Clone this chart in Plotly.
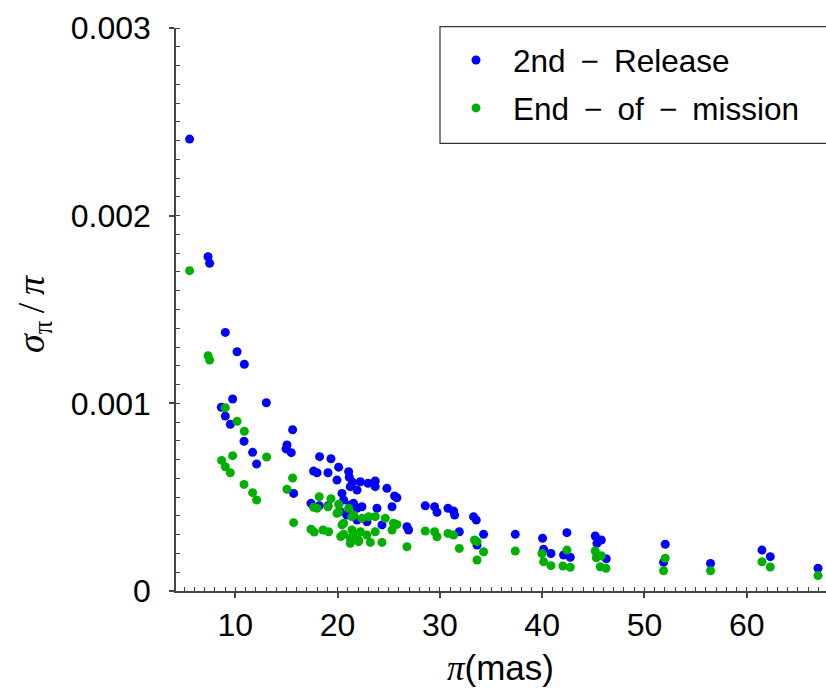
import plotly.graph_objects as go

# ---- data (parallax in mas, relative error in units of 1e-3) ----
release2_x = [5.53, 7.33, 7.49, 9.02, 10.17, 10.88, 9.74, 13.03, 8.63, 9.02, 9.51, 15.6,
              10.85, 15.05, 14.96, 15.47, 11.69, 18.24, 19.35, 12.08, 17.65, 17.99, 19.06,
              15.7, 17.4, 18.2, 19.06,
              20.1, 19.94, 21.08, 21.14, 21.24, 21.47, 21.9, 22.22, 22.97, 23.68, 23.68,
              24.82, 25.57, 25.8, 25.32, 23.85, 21.9, 20.59, 21.24, 20.26, 20.9, 21.9,
              22.87, 24.34, 20.43, 21.56, 22.38,
              28.57, 29.48, 29.72, 30.79, 31.34, 31.44, 33.29, 33.56, 26.78, 26.94, 31.9,
              33.63, 34.27, 37.37, 40.04, 40.14, 40.86, 42.42, 42.09, 42.75, 45.19, 45.78,
              45.36, 46.27, 52.03, 51.87, 56.46, 61.49, 62.3, 66.97]
release2_err = [2.408, 1.781, 1.746, 1.378, 1.275, 1.208, 1.023, 1.003, 0.979, 0.932, 0.888, 0.859,
                0.798, 0.778, 0.757, 0.737, 0.739, 0.716, 0.705, 0.677, 0.639, 0.630, 0.630,
                0.520, 0.467, 0.454, 0.454,
                0.660, 0.591, 0.636, 0.606, 0.556, 0.579, 0.538, 0.582, 0.574, 0.586, 0.556,
                0.547, 0.506, 0.497, 0.449, 0.441, 0.441, 0.485, 0.458, 0.423, 0.405, 0.378,
                0.369, 0.352, 0.520, 0.467, 0.449,
                0.454, 0.449, 0.419, 0.441, 0.426, 0.405, 0.396, 0.378, 0.343, 0.325, 0.316,
                0.245, 0.302, 0.302, 0.281, 0.222, 0.200, 0.311, 0.192, 0.180, 0.293, 0.272,
                0.254, 0.172, 0.249, 0.153, 0.147, 0.218, 0.183, 0.121]

endmission_x = [5.53, 7.33, 7.49, 9.02, 10.17, 10.88, 9.74, 13.06, 8.66, 9.02, 9.51, 15.6,
                10.85, 15.05, 11.69, 12.08, 18.2, 19.35, 17.65, 17.99, 19.06, 15.7, 17.4,
                17.72, 18.57, 19.12,
                20.1, 19.94, 20.1, 21.08, 21.56, 21.4, 22.38, 23.03, 23.68, 24.66, 25.47,
                25.8, 20.43, 20.59, 20.59, 21.4, 21.56, 22.22, 22.87, 23.68, 25.32, 21.24,
                22.05, 21.24, 22.05, 23.2, 24.34, 20.3,
                26.78, 28.57, 29.48, 29.72, 30.79, 31.34, 31.9, 33.39, 33.63, 34.27, 33.63,
                37.37, 39.98, 40.14, 40.86, 42.42, 42.03, 42.75, 45.19, 45.29, 45.78, 45.68,
                46.24, 52.03, 51.87, 56.46, 61.49, 62.3, 66.97]
endmission_err = [1.707, 1.254, 1.231, 0.977, 0.904, 0.851, 0.721, 0.714, 0.696, 0.662, 0.630, 0.602,
                  0.568, 0.542, 0.524, 0.485, 0.502, 0.492, 0.446, 0.441, 0.449, 0.364, 0.329,
                  0.314, 0.325, 0.316,
                  0.462, 0.414, 0.423, 0.441, 0.405, 0.396, 0.387, 0.396, 0.396, 0.387, 0.361,
                  0.355, 0.352, 0.361, 0.302, 0.325, 0.307, 0.316, 0.298, 0.316, 0.325, 0.281,
                  0.272, 0.254, 0.263, 0.259, 0.259, 0.290,
                  0.236, 0.320, 0.316, 0.289, 0.307, 0.298, 0.227, 0.272, 0.263, 0.209, 0.165,
                  0.213, 0.200, 0.156, 0.135, 0.218, 0.133, 0.126, 0.213, 0.177, 0.188, 0.129,
                  0.121, 0.174, 0.108, 0.108, 0.156, 0.128, 0.082]

y_tickvals = [0, 0.001, 0.002, 0.003]
y_ticktext = ["0", "0.001", "0.002", "0.003"]
x_tickvals = [10, 20, 30, 40, 50, 60]
x_ticktext = ["10", "20", "30", "40", "50", "60"]

SP = "\u00a0\u2009"
series_names = ["2nd" + SP + "\u2212" + SP + "Release",
                "End" + SP + "\u2212" + SP + "of" + SP + "\u2212" + SP + "mission"]

BLUE = "#0000ff"
GREEN = "#00b000"
FONT = "Liberation Sans, Arial, sans-serif"
AXC = "#444444"

fig = go.Figure()
fig.add_trace(go.Scatter(
    x=release2_x, y=[v * 1e-3 for v in release2_err], mode="markers",
    name=series_names[0], legendgroup="a",
    marker=dict(color=BLUE, size=9, line=dict(width=0))))
fig.add_trace(go.Scatter(
    x=endmission_x, y=[v * 1e-3 for v in endmission_err], mode="markers",
    name=series_names[1], legendgroup="b",
    marker=dict(color=GREEN, size=9, line=dict(width=0))))

XR = [4.2, 67.75]
YR = [0, 0.003]
L, T, B = 176, 28, 101
PW, PH = 826 - L, 692 - T - B


def px_x(p):
    return (p - L) / PW


def px_y(p):
    return (692 - B - p) / PH


fig.update_layout(
    width=826, height=692, autosize=False,
    margin=dict(l=L, r=0, t=T, b=B, autoexpand=False),
    paper_bgcolor="white", plot_bgcolor="white",
    font=dict(family=FONT, size=32, color="black"),
    showlegend=True,
    legend=dict(x=px_x(439), y=px_y(33), xanchor="left", yanchor="top",
                borderwidth=0, bgcolor="rgba(0,0,0,0)",
                font=dict(family=FONT, size=31.5, color="black"),
                itemwidth=64, tracegroupgap=4),
    shapes=[dict(type="rect", xref="paper", yref="paper",
                 x0=px_x(440), x1=px_x(840), y0=px_y(143.3), y1=px_y(26.7),
                 line=dict(color="#333333", width=1.2), fillcolor="rgba(0,0,0,0)",
                 layer="above")],
    xaxis=dict(range=XR, showgrid=False, zeroline=False,
               showline=True, linecolor=AXC, linewidth=1.5,
               ticks="outside", ticklen=5, tickwidth=1.5, tickcolor=AXC,
               tickvals=x_tickvals, ticktext=x_ticktext,
               tickfont=dict(family=FONT, size=32),
               minor=dict(ticks="inside", dtick=1, tick0=0, ticklen=4,
                          tickwidth=1, tickcolor=AXC, showgrid=False)),
    yaxis=dict(range=YR, showgrid=False, zeroline=False,
               showline=True, linecolor=AXC, linewidth=1.5,
               ticks="outside", ticklen=5, tickwidth=1.5, tickcolor=AXC,
               tickvals=y_tickvals, ticktext=y_ticktext,
               tickfont=dict(family=FONT, size=32),
               ticklabelstandoff=12,
               minor=dict(ticks="inside", dtick=0.0001, tick0=0, ticklen=4,
                          tickwidth=1, tickcolor=AXC, showgrid=False)),
    xaxis2=dict(range=XR, overlaying="x", anchor="y", side="bottom",
                showgrid=False, zeroline=False, showline=False,
                ticks="inside", ticklen=4, tickwidth=1.5, tickcolor=AXC,
                tickvals=x_tickvals, showticklabels=False),
    yaxis2=dict(range=YR, overlaying="y", anchor="x", side="left",
                showgrid=False, zeroline=False, showline=False,
                ticks="inside", ticklen=4, tickwidth=1.5, tickcolor=AXC,
                tickvals=y_tickvals, showticklabels=False),
    annotations=[
        dict(text="<span style='font-family:Liberation Serif'><i>π</i></span>(mas)",
             xref="paper", yref="paper", x=px_x(500), y=px_y(668),
             xanchor="center", yanchor="middle", showarrow=False,
             font=dict(family=FONT, size=35, color="black")),
        dict(text="<i>σ</i><sub>π</sub>\u2009/\u2009<i>π</i>",
             xref="paper", yref="paper", x=px_x(34), y=px_y(314),
             xanchor="center", yanchor="middle", showarrow=False, textangle=-90,
             font=dict(family="Liberation Serif, DejaVu Serif, serif", size=38, color="black")),
    ],
)

fig.write_html("out.html",
               config={"displayModeBar": False},
               post_script="document.body.style.margin='0px';"
                           "document.body.style.overflow='hidden';")
